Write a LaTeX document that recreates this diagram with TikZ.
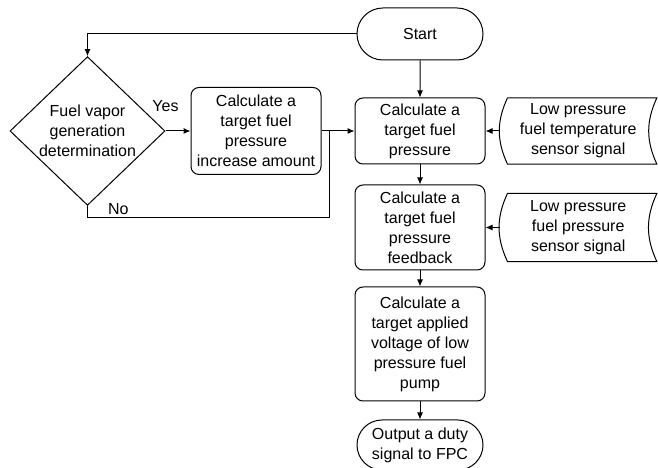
\documentclass[tikz,border=0pt]{standalone}
\usepackage{fontspec}
\setmainfont{Liberation Sans}
\usetikzlibrary{shapes.geometric,shapes.misc,positioning,arrows.meta}

\tikzset{
	procbox/.style={
		draw=black,           % black border
		line width=1pt,       % border thickness
		rectangle,            % shape
		rounded corners=8pt,  % slight rounding
		minimum width=130pt,
		align=center,
		inner sep=2pt
	},
	termbox/.style={
		draw=black,
		line width=1pt,
		rounded rectangle,    % stadium ends
		minimum width=130pt,
		align=center,
		inner sep=2pt
	},
	databox/.style={
		rectangle,            % outline is drawn by hand
		minimum width=157pt,
		minimum height=66pt,
		align=center
	},
	line/.style={draw=black, line width=1pt},
	arr/.style={line, -{Latex[length=7pt,width=6pt]}}
}

\begin{document}
\begin{tikzpicture}[font=\fontsize{16}{20}\selectfont]
	\useasboundingbox (0,0) rectangle (658pt,468pt);

	% main column
	\node[termbox, minimum height=52pt] (start) at (420pt,434pt) {Start};
	\node[procbox, minimum height=66pt, below=37pt of start] (tfp)
		{Calculate a\\target fuel\\pressure};
	\node[procbox, minimum height=85pt, below=20pt of tfp] (fb)
		{Calculate a\\target fuel\\pressure\\feedback};
	\node[procbox, minimum height=114pt, below=16pt of fb] (volt)
		{Calculate a\\target applied\\voltage of low\\pressure fuel\\pump};
	\node[termbox, minimum height=50pt, below=18pt of volt] (out)
		{Output a duty\\signal to FPC};

	% left branch
	\node[procbox, minimum height=87pt, left=33pt of tfp] (inc)
		{Calculate a\\target fuel\\pressure\\increase amount};
	\node[
	draw=black,
	line width=1pt,
	diamond,              % decision
	minimum width=155pt,
	minimum height=140pt,
	inner sep=0pt,
	align=center,
	left=25pt of inc
	] (fvg) {Fuel vapor\\generation\\determination};

	% sensor inputs
	\node[databox, right=14pt of tfp] (temp)
		{Low pressure\\fuel temperature\\sensor signal};
	\node[databox, minimum height=68pt, right=14pt of fb] (sens)
		{Low pressure\\fuel pressure\\sensor signal};
	\foreach \d in {temp,sens} {
		\draw[line] ([xshift=8pt]\d.north west) -- (\d.north east)
			to[bend right=25] (\d.south east)
			-- ([xshift=8pt]\d.south west)
			to[bend left=25] ([xshift=8pt]\d.north west);
	}

	% connectors
	\coordinate (jn) at ([xshift=8pt]inc.east);
	\draw[arr] (start.west) -| (fvg.north);
	\draw[arr] (fvg.east) -- node[pos=0, above=16pt] (yes) {Yes} (inc.west);
	\draw[arr] (inc.east) -- (tfp.west);
	\draw[line] (fvg.south) -- ++(0,-12pt) coordinate (nob) -| (jn);
	\node[anchor=south west] (no) at ([xshift=17pt]nob) {No};
	\draw[arr] (start) -- (tfp);
	\draw[arr] (tfp) -- (fb);
	\draw[arr] (fb) -- (volt);
	\draw[arr] (volt) -- (out);
	\draw[arr] (temp.west) -- (tfp.east);
	\draw[arr] (sens.west) -- (fb.east);
\end{tikzpicture}
\end{document}
